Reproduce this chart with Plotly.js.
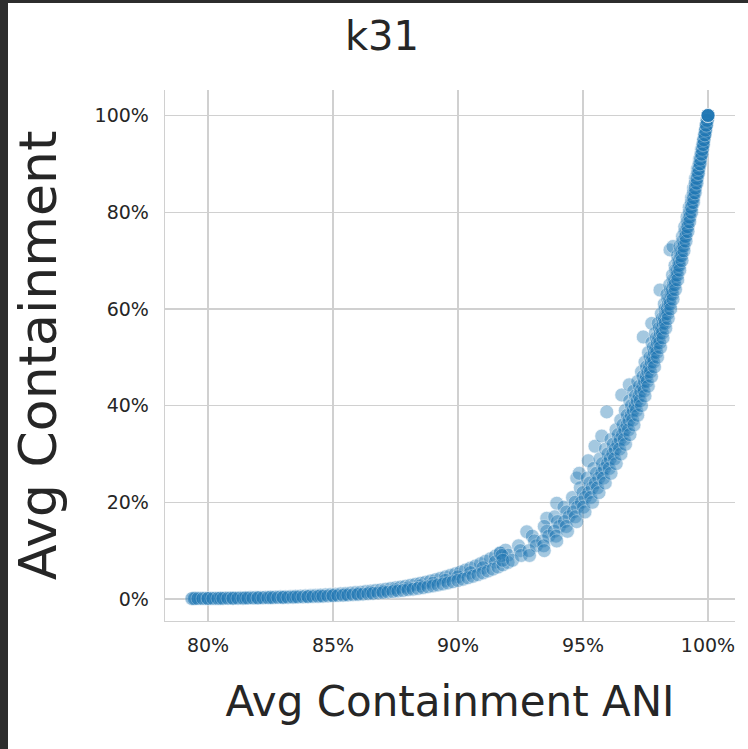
<!DOCTYPE html>
<html>
<head>
<meta charset="utf-8">
<script src="https://cdn.plot.ly/plotly-3.0.1.min.js"></script>
<style>
  html, body { margin:0; padding:0; background:#2d2d2d; width:748px; height:749px; overflow:hidden; }
  #chart { position:absolute; left:8px; top:3px; width:740px; height:746px; background:#ffffff; }
</style>
</head>
<body>
<div id="chart"></div>
<script>
// ---- labels ----
const chartTitle = 'k31';
const xTitle = 'Avg Containment ANI';
const yTitle = 'Avg Containment';
const xTickVals = [80, 85, 90, 95, 100];
const xTickText = ['80%', '85%', '90%', '95%', '100%'];
const yTickVals = [0, 20, 40, 60, 80, 100];
const yTickText = ['0%', '20%', '40%', '60%', '80%', '100%'];

// ---- flat part of the band (lower row), values in % ----
const aniA1 = [79.35,79.45,79.6,79.8,80.0,80.2,80.4,80.6,80.8,81.0,81.2,81.4,81.6,81.8,82.0,82.2,82.4,82.6,82.8,83.0,83.2,83.4,83.6,83.8,84.0,84.2,84.4,84.6,84.8,85.0,85.2,85.4,85.6,85.8,86.0,86.2,86.4,86.6,86.8,87.0,87.2,87.4,87.6,87.8,88.0,88.2,88.4,88.6,88.8,89.0,89.2,89.4,89.6,89.8,90.0,90.2,90.4,90.6,90.8,91.0,91.2,91.4,91.6,91.8,92.0];
const contA1 = [0.076,0.080,0.085,0.092,0.099,0.107,0.115,0.124,0.135,0.146,0.157,0.169,0.183,0.198,0.214,0.230,0.248,0.268,0.289,0.311,0.335,0.361,0.389,0.419,0.451,0.486,0.523,0.563,0.606,0.650,0.699,0.752,0.808,0.868,0.932,1.00,1.075,1.154,1.24,1.33,1.43,1.53,1.64,1.76,1.90,2.03,2.18,2.33,2.51,2.70,2.89,3.09,3.31,3.56,3.82,4.09,4.38,4.69,5.03,5.39,5.77,6.17,6.60,7.06,7.56];

// ---- flat part of the band (upper, lighter row) ----
const aniA2 = [79.4,79.5,79.7,79.9,80.1,80.3,80.5,80.7,80.9,81.1,81.3,81.5,81.7,81.9,82.1,82.3,82.5,82.7,82.9,83.1,83.3,83.5,83.7,83.9,84.1,84.3,84.5,84.7,84.9,85.1,85.3,85.5,85.7,85.9,86.1,86.3,86.5,86.7,86.9,87.1,87.3,87.5,87.7,87.9,88.1,88.3,88.5,88.7,88.9,89.1,89.3,89.5,89.7,89.9,90.1,90.3,90.5,90.7,90.9,91.1,91.3,91.5,91.7,91.9];
const contA2 = [0.12,0.13,0.14,0.15,0.16,0.17,0.18,0.20,0.22,0.23,0.25,0.27,0.29,0.31,0.33,0.36,0.39,0.42,0.45,0.48,0.52,0.56,0.60,0.65,0.70,0.75,0.81,0.87,0.93,1.00,1.07,1.15,1.24,1.33,1.42,1.53,1.64,1.76,1.88,2.02,2.16,2.32,2.48,2.66,2.85,3.05,3.26,3.49,3.74,4.00,4.28,4.58,4.90,5.24,5.60,5.99,6.40,6.84,7.31,7.81,8.34,8.90,9.50,10.1];

// ---- flat part of the band (middle row) ----
const aniA3 = [80.0,80.5,81.0,81.5,82.0,82.5,83.0,83.5,84.0,84.5,85.0,85.5,86.0,86.5,87.0,87.5,88.0,88.5,89.0,89.5,90.0,90.5,91.0,91.5,92.0];
const contA3 = [0.12,0.14,0.175,0.21,0.26,0.31,0.37,0.45,0.54,0.65,0.78,0.94,1.12,1.34,1.60,1.91,2.28,2.72,3.24,3.85,4.58,5.44,6.47,7.67,9.07];

// ---- steep part, centre of band ----
const aniB1 = [92.18,92.53,92.84,93.13,93.39,93.63,93.85,94.06,94.26,94.44,94.62,94.78,94.94,95.09,95.23,95.37,95.50,95.63,95.75,95.86,95.98,96.09,96.19,96.29,96.39,96.49,96.58,96.67,96.76,96.84,96.93,97.01,97.09,97.17,97.24,97.31,97.39,97.46,97.53,97.59,97.66,97.73,97.79,97.85,97.91,97.97,98.03,98.09,98.15,98.20,98.26,98.31,98.37,98.42,98.47,98.52,98.57,98.62,98.67,98.72,98.76,98.81,98.86,98.90,98.95,98.99,99.03,99.08,99.12,99.16,99.20,99.24,99.28,99.32,99.36,99.40,99.44,99.48,99.51,99.55,99.59,99.62,99.66,99.70,99.73,99.77,99.80,99.83,99.87,99.90,99.93,99.97,100];
const contB1 = [8,9,10,11,12,13,14,15,16,17,18,19,20,21,22,23,24,25,26,27,28,29,30,31,32,33,34,35,36,37,38,39,40,41,42,43,44,45,46,47,48,49,50,51,52,53,54,55,56,57,58,59,60,61,62,63,64,65,66,67,68,69,70,71,72,73,74,75,76,77,78,79,80,81,82,83,84,85,86,87,88,89,90,91,92,93,94,95,96,97,98,99,100];

// ---- steep part, upper-left edge of band ----
const aniB2 = [91.76,92.42,92.97,93.45,93.87,94.24,94.58,94.89,95.17,95.43,95.68,95.90,96.12,96.32,96.51,96.69,96.87,97.03,97.19,97.34,97.48,97.62,97.76,97.89,98.01,98.13,98.25,98.36,98.47,98.58,98.68,98.78,98.88,98.98,99.07,99.16,99.25,99.34,99.42,99.50,99.58,99.66,99.74,99.82,99.89,99.96];
const contB2 = [9,11,13,15,17,19,21,23,25,27,29,31,33,35,37,39,41,43,45,47,49,51,53,55,57,59,61,63,65,67,69,71,73,75,77,79,81,83,85,87,89,91,93,95,97,99];

// ---- steep part, between upper-left edge and centre ----
const aniB4 = [91.79,92.49,93.06,93.55,93.98,94.35,94.69,95.00,95.28,95.54,95.78,96.00,96.21,96.41,96.60,96.77,96.94,97.10,97.26,97.40,97.54,97.68,97.81,97.93,98.05,98.17,98.28,98.39,98.50,98.60,98.70,98.80,98.89,98.98,99.07,99.16,99.25,99.33,99.41,99.49,99.57,99.64,99.72,99.79,99.86,99.93,100];
const contB4 = [8,10,12,14,16,18,20,22,24,26,28,30,32,34,36,38,40,42,44,46,48,50,52,54,56,58,60,62,64,66,68,70,72,74,76,78,80,82,84,86,88,90,92,94,96,98,100];

// ---- steep part, between centre and lower-right edge ----
const aniB5 = [92.86,93.43,93.92,94.33,94.69,95.02,95.31,95.58,95.82,96.05,96.26,96.46,96.65,96.82,96.99,97.14,97.29,97.44,97.57,97.70,97.83,97.95,98.07,98.18,98.29,98.39,98.49,98.59,98.68,98.78,98.86,98.95,99.04,99.12,99.20,99.28,99.35,99.43,99.50,99.57,99.64,99.71,99.78,99.84,99.91,99.97];
const contB5 = [9,11,13,15,17,19,21,23,25,27,29,31,33,35,37,39,41,43,45,47,49,51,53,55,57,59,61,63,65,67,69,71,73,75,77,79,81,83,85,87,89,91,93,95,97,99];

// ---- steep part, lower-right edge of band ----
const aniB3 = [93.45,93.95,94.38,94.75,95.08,95.38,95.64,95.89,96.12,96.33,96.52,96.70,96.88,97.04,97.19,97.34,97.48,97.61,97.74,97.86,97.98,98.10,98.20,98.31,98.41,98.51,98.60,98.70,98.79,98.87,98.96,99.04,99.12,99.20,99.27,99.35,99.42,99.49,99.56,99.62,99.69,99.76,99.82,99.88,99.94];
const contB3 = [10,12,14,16,18,20,22,24,26,28,30,32,34,36,38,40,42,44,46,48,50,52,54,56,58,60,62,64,66,68,70,72,74,76,78,80,82,84,86,88,90,92,94,96,98];

// ---- scattered points above the band ----
const aniOut = [91.68,92.75,93.55,93.95,94.75,94.85,95.21,95.48,95.75,95.95,96.55,96.85,97.41,97.75,98.08,98.48,98.60];
const contOut = [9.5,13.9,16.7,19.8,25.0,26.0,28.6,31.6,33.7,38.7,42.2,44.3,54.2,57.0,63.9,72.2,72.9];

// ---- identical points at the top corner ----
const aniTop = [100,100,100,100,100];
const contTop = [100,100,100,100,100];

const xs = [].concat(aniA2, aniA3, aniA1, aniOut, aniB2, aniB4, aniB1, aniB5, aniB3, aniTop);
const ys = [].concat(contA2, contA3, contA1, contOut, contB2, contB4, contB1, contB5, contB3, contTop);

const tickFont = {family:'DejaVu Sans', size:19, color:'#262626'};

const trace = {
  type:'scatter', mode:'markers', x: xs, y: ys,
  marker:{ size:14, color:'#1f77b4', opacity:0.4, line:{color:'#ffffff', width:0.7} },
  hoverinfo:'skip', showlegend:false
};

const layout = {
  width:740, height:746,
  margin:{l:157, r:13, t:87, b:128, pad:0},
  paper_bgcolor:'#ffffff', plot_bgcolor:'#ffffff',
  font:{family:'DejaVu Sans', color:'#262626'},
  title:{ text: chartTitle, font:{family:'DejaVu Sans', size:40, color:'#262626'},
          xref:'container', yref:'container', x:0.5054, y:0.956, xanchor:'center', yanchor:'middle' },
  xaxis:{
    range:[78.28, 101.08], tickmode:'array', tickvals:xTickVals, ticktext:xTickText,
    showgrid:true, gridcolor:'#d0d0d0', gridwidth:1.3,
    showline:true, linecolor:'#d0d0d0', linewidth:1.3, mirror:false,
    zeroline:false, ticks:'', ticklabelstandoff:7, tickfont:tickFont,
    automargin:false,
    title:{ text:xTitle, font:{family:'DejaVu Sans', size:42, color:'#262626'}, standoff:31 }
  },
  yaxis:{
    range:[-4.55, 105.27], tickmode:'array', tickvals:yTickVals, ticktext:yTickText,
    showgrid:true, gridcolor:'#d0d0d0', gridwidth:1.3,
    showline:true, linecolor:'#d0d0d0', linewidth:1.3, mirror:false,
    zeroline:false, ticks:'', ticklabelstandoff:11, tickfont:tickFont,
    automargin:false,
    title:{ text:yTitle, font:{family:'DejaVu Sans', size:52, color:'#262626'}, standoff:22 }
  }
};

Plotly.newPlot('chart', [trace], layout, {displayModeBar:false, staticPlot:true});
</script>
</body>
</html>
